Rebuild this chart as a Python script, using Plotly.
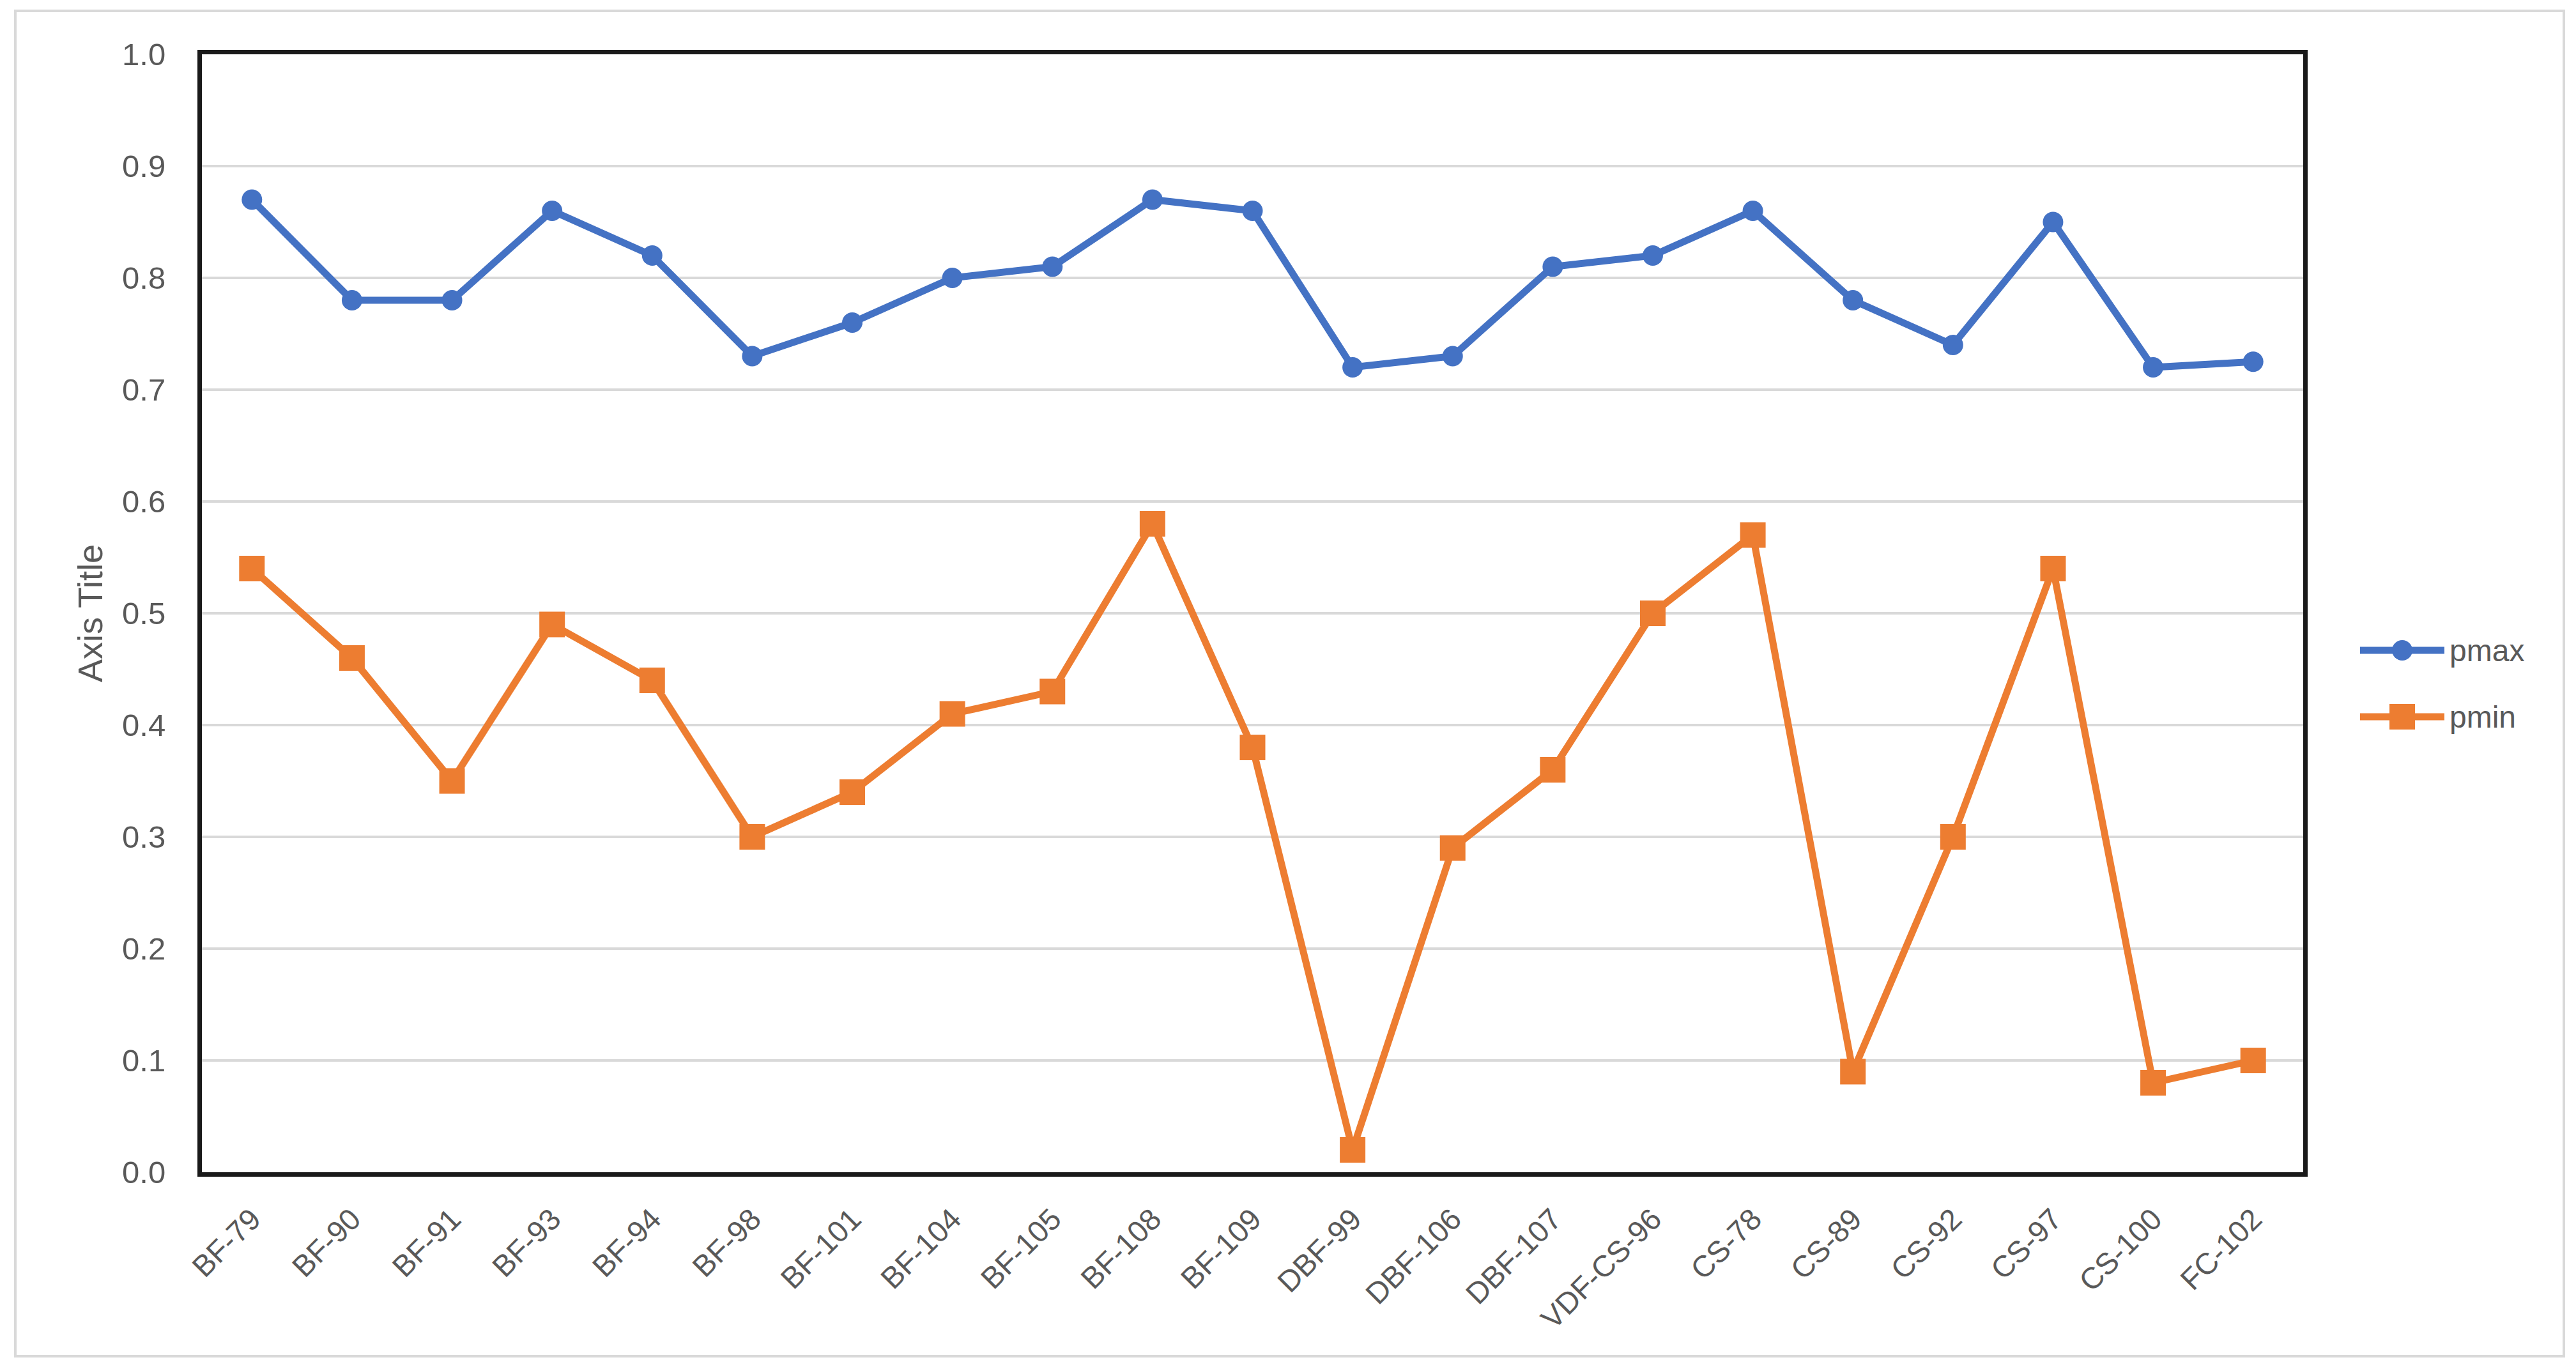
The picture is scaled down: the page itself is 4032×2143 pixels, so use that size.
import plotly.graph_objects as go

categories = ["BF-79", "BF-90", "BF-91", "BF-93", "BF-94", "BF-98", "BF-101", "BF-104",
              "BF-105", "BF-108", "BF-109", "DBF-99", "DBF-106", "DBF-107", "VDF-CS-96",
              "CS-78", "CS-89", "CS-92", "CS-97", "CS-100", "FC-102"]
pmax = [0.87, 0.78, 0.78, 0.86, 0.82, 0.73, 0.76, 0.80, 0.81, 0.87, 0.86,
        0.72, 0.73, 0.81, 0.82, 0.86, 0.78, 0.74, 0.85, 0.72, 0.725]
pmin = [0.54, 0.46, 0.35, 0.49, 0.44, 0.30, 0.34, 0.41, 0.43, 0.58, 0.38,
        0.02, 0.29, 0.36, 0.50, 0.57, 0.09, 0.30, 0.54, 0.08, 0.10]
series_names = ["pmax", "pmin"]
series_colors = ["#4472C4", "#ED7D31"]
y_ticks = [0.0, 0.1, 0.2, 0.3, 0.4, 0.5, 0.6, 0.7, 0.8, 0.9, 1.0]

# page offsets (body margin); figure coords = page coords - offset
OFFX, OFFY = 4, 8
W, H = 4032 - 2 * OFFX, 2143 - 2 * OFFY
L = 312 - OFFX
T = 85 - OFFY
R = W - (3601 - OFFX)
B = H - (1835 - OFFY)
pw, ph = W - L - R, H - T - B


def px_x(p):  # page pixel -> paper x
    return (p - OFFX - L) / pw


def px_y(p):  # page pixel -> paper y
    return (H - B - (p - OFFY)) / ph


FONT = "Liberation Sans, Arial, sans-serif"
GRAY = "#595959"
LW = 11
CIRCLE = 32
SQUARE = 40

fig = go.Figure()
fig.add_trace(go.Scatter(
    x=categories, y=pmax, name=series_names[0], mode="lines+markers",
    line=dict(color=series_colors[0], width=LW),
    marker=dict(symbol="circle", size=CIRCLE, color=series_colors[0]),
    showlegend=False,
))
fig.add_trace(go.Scatter(
    x=categories, y=pmin, name=series_names[1], mode="lines+markers",
    line=dict(color=series_colors[1], width=LW),
    marker=dict(symbol="square", size=SQUARE, color=series_colors[1]),
    showlegend=False,
))

shapes = [dict(
    type="rect", xref="paper", yref="paper",
    x0=px_x(20), x1=px_x(4009), y0=px_y(2123), y1=px_y(17),
    line=dict(color="#d9d9d9", width=4), fillcolor="rgba(0,0,0,0)", layer="below",
)]
annotations = []

# legend drawn manually so the markers keep their size
leg_y = [1018, 1122]
leg_x0, leg_x1 = 3690, 3822
leg_mid = (leg_x0 + leg_x1) / 2
for i, (nm, col) in enumerate(zip(series_names, series_colors)):
    yy = px_y(leg_y[i])
    shapes.append(dict(type="line", xref="paper", yref="paper",
                       x0=px_x(leg_x0), x1=px_x(leg_x1), y0=yy, y1=yy,
                       line=dict(color=col, width=LW)))
    sz = CIRCLE if i == 0 else SQUARE
    shapes.append(dict(type="circle" if i == 0 else "rect", xref="paper", yref="paper",
                       xsizemode="pixel", ysizemode="pixel",
                       xanchor=px_x(leg_mid), yanchor=yy,
                       x0=-sz / 2, x1=sz / 2, y0=-sz / 2, y1=sz / 2,
                       fillcolor=col, line=dict(width=0)))
    annotations.append(dict(xref="paper", yref="paper", x=px_x(3828), y=yy,
                            xanchor="left", yanchor="middle", showarrow=False,
                            text=nm, font=dict(size=48, color=GRAY, family=FONT)))

fig.update_layout(
    width=W, height=H,
    margin=dict(l=L, r=R, t=T, b=B, autoexpand=False),
    paper_bgcolor="white", plot_bgcolor="white",
    font=dict(family=FONT, color=GRAY, size=48),
    showlegend=False,
    xaxis=dict(
        type="category", range=[-0.5, len(categories) - 0.5],
        tickangle=-45, tickfont=dict(size=47, color=GRAY, family=FONT),
        showgrid=False, showline=True, linecolor="#1a1a1a", linewidth=7, mirror=True,
        ticks="", ticklabelstandoff=20,
    ),
    yaxis=dict(
        range=[0, 1], tickvals=y_ticks, tickformat=".1f",
        tickfont=dict(size=49, color=GRAY, family=FONT),
        showgrid=True, gridcolor="#d9d9d9", gridwidth=4,
        showline=True, linecolor="#1a1a1a", linewidth=7, mirror=True,
        zeroline=False, ticks="", ticklabelstandoff=40,
        title=dict(text="Axis Title", font=dict(size=54, color=GRAY, family=FONT), standoff=16),
    ),
    shapes=shapes,
    annotations=annotations,
)

fig.write_html("out.html")
